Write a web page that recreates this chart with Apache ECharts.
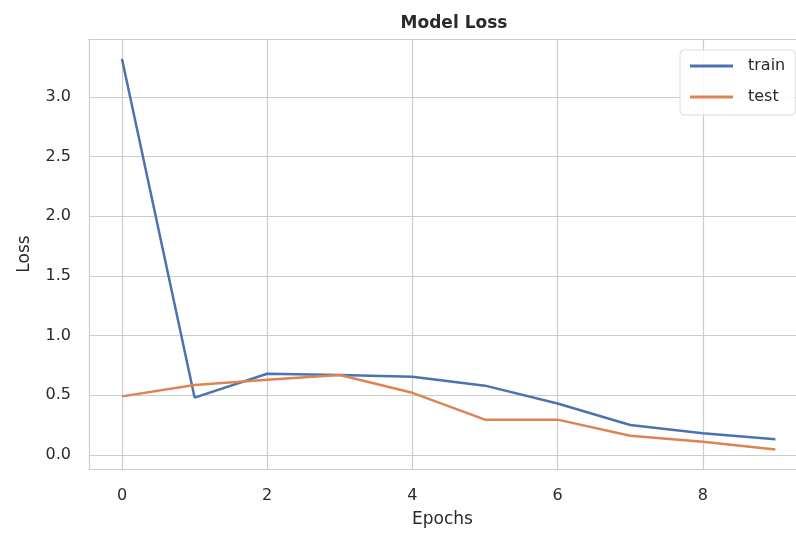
<!DOCTYPE html>
<html>
<head>
<meta charset="utf-8">
<script src="https://cdn.jsdelivr.net/npm/echarts@6/dist/echarts.min.js"></script>
<style>html,body{margin:0;padding:0;background:#fff}#c{width:796px;height:533px}</style>
</head>
<body>
<div id="c"></div>
<script>
const epochs = [0, 1, 2, 3, 4, 5, 6, 7, 8, 9];
const trainLoss = [3.32, 0.48, 0.68, 0.67, 0.655, 0.58, 0.43, 0.25, 0.18, 0.13];
const testLoss = [0.49, 0.585, 0.63, 0.67, 0.52, 0.295, 0.295, 0.16, 0.11, 0.045];
const xTicks = [0, 2, 4, 6, 8];
const yTicks = [0, 0.5, 1.0, 1.5, 2.0, 2.5, 3.0];

const chart = echarts.init(document.getElementById('c'), null, {renderer: 'canvas'});
const txt = '#2a2a2a';
const grid = '#cccccc';
const ff = 'DejaVu Sans';
const axisLn = {show: true, onZero: false, lineStyle: {color: grid, width: 1.2}};
chart.setOption({
  animation: false,
  backgroundColor: '#ffffff',
  title: {
    text: 'Model Loss', left: 449, top: 10, textAlign: 'center',
    textStyle: {fontFamily: ff, fontSize: 17, fontWeight: 'bold', color: txt}
  },
  legend: {
    orient: 'vertical', left: 680, top: 50,
    padding: [7, 10, 9, 10], itemWidth: 43, itemHeight: 3, itemGap: 13,
    icon: 'rect',
    backgroundColor: 'rgba(255,255,255,0.85)', borderColor: '#dddddd', borderWidth: 1, borderRadius: 4,
    textStyle: {fontFamily: ff, fontSize: 16, color: txt, padding: [0, 0, 0, 10], lineHeight: 18},
    data: ['train', 'test']
  },
  grid: {left: 89, top: 39, bottom: 62, right: 0, show: false},
  xAxis: [{
    type: 'value', min: -0.4545, max: 9.284, position: 'bottom',
    name: 'Epochs', nameLocation: 'middle', nameGap: 42,
    nameTextStyle: {fontFamily: ff, fontSize: 17, color: txt},
    axisLine: axisLn, axisTick: {show: false, customValues: xTicks},
    axisLabel: {customValues: xTicks, margin: 19, fontFamily: ff, fontSize: 16, color: txt, formatter: v => String(v)},
    splitLine: {show: true, lineStyle: {color: grid, width: 1.2}}
  }, {
    type: 'value', min: -0.4545, max: 9.284, position: 'top',
    axisLine: axisLn, axisTick: {show: false}, axisLabel: {show: false}, splitLine: {show: false}
  }],
  yAxis: {
    type: 'value', min: -0.119, max: 3.487,
    name: 'Loss', nameLocation: 'middle', nameGap: 56, nameRotate: 90,
    nameTextStyle: {fontFamily: ff, fontSize: 17, color: txt},
    axisLine: axisLn, axisTick: {show: false, customValues: yTicks},
    axisLabel: {customValues: yTicks, margin: 18, fontFamily: ff, fontSize: 16, color: txt, formatter: v => v.toFixed(1)},
    splitLine: {show: true, lineStyle: {color: grid, width: 1.2}}
  },
  series: [
    {name: 'train', type: 'line', symbol: 'none', data: epochs.map((e, i) => [e, trainLoss[i]]),
     lineStyle: {color: '#4c72b0', width: 2.5}, itemStyle: {color: '#4c72b0'}},
    {name: 'test', type: 'line', symbol: 'none', data: epochs.map((e, i) => [e, testLoss[i]]),
     lineStyle: {color: '#dd8452', width: 2.5}, itemStyle: {color: '#dd8452'}}
  ]
});
</script>
</body>
</html>
